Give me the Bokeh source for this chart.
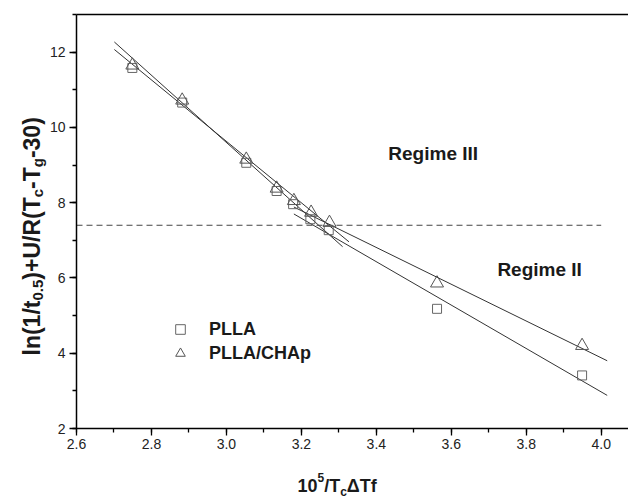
import math
from bokeh.plotting import figure
from bokeh.models import (SingleIntervalTicker, FixedTicker, LinearAxis, Label, Range1d,
                          Legend, LegendItem, PrintfTickFormatter)
from bokeh.embed import file_html
from bokeh.resources import INLINE

# ---------------- data ----------------
plla_x = [2.749, 2.882, 3.053, 3.134, 3.178, 3.224, 3.273, 3.562, 3.949]
plla_y = [11.58, 10.66, 9.06, 8.31, 7.96, 7.56, 7.27, 5.18, 3.41]
chap_x = [2.749, 2.882, 3.053, 3.134, 3.180, 3.226, 3.275, 3.562, 3.949]
chap_y = [11.65, 10.72, 9.15, 8.38, 8.05, 7.74, 7.47, 5.86, 4.20]

# linear fits (start / end of each fitted line)
fit_x0 = [2.701, 2.701, 3.18, 3.18]
fit_x1 = [3.310, 3.327, 4.016, 4.016]
fit_y0 = [12.27, 12.07, 7.885, 7.70]
fit_y1 = [6.83, 6.96, 3.80, 2.88]

# regime boundary
boundary_x = [2.6, 4.0]
boundary_y = [7.40, 7.40]

series_names = ["PLLA", "PLLA/CHAp"]
regime_labels = ["Regime III", "Regime II"]
regime_x = [3.432, 3.723]
regime_y = [9.32, 6.22]

x_title = [("10", 18, 0), ("5", 12, -8), ("/T", 18, 0), ("c", 12, 6), ("\u0394Tf", 18, 0)]
y_title = [("ln(1/t", 23, 0), ("0.5", 15, 6), (")+U/R(T", 23, 0), ("c", 15, 6),
           ("-T", 23, 0), ("g", 15, 6), ("-30)", 23, 0)]

# ---------------- layout ----------------
FONT = "Liberation Sans"
TXT = "#1a1a1a"
W, H = 628, 498
FL, FT, FB = 76, 14, 428           # axes box left / top / bottom in pixels
X0, X1 = 2.6, 4.0                  # x axis: pixel FL .. 600.7
Y0, Y1 = 2.0, 13.0                 # y axis: pixel FB .. FT
PX = (600.7 - FL) / (X1 - X0)
PY = (FB - FT) / (Y1 - Y0)

x_lo, x_hi = X0 - FL / PX, X0 + (W - FL) / PX
y_lo, y_hi = Y0 - (H - FB) / PY, Y0 + FB / PY

p = figure(width=W, height=H, output_backend="svg", toolbar_location=None, title=None,
           x_range=Range1d(x_lo, x_hi), y_range=Range1d(y_lo, y_hi),
           x_axis_location=None, y_axis_location=None,
           min_border=0, outline_line_color=None, background_fill_color="white",
           border_fill_color="white")
p.grid.visible = False


def style(ax):
    ax.axis_line_width = 1.5
    ax.axis_line_color = "black"
    ax.major_tick_in = 0
    ax.major_tick_out = 7
    ax.minor_tick_in = 0
    ax.minor_tick_out = 4
    ax.major_tick_line_color = "black"
    ax.minor_tick_line_color = "black"
    ax.major_tick_line_width = 1.3
    ax.minor_tick_line_width = 1.3
    ax.major_label_text_font = FONT
    ax.major_label_text_font_size = "14px"
    ax.major_label_text_color = "#222222"


xax = LinearAxis(ticker=SingleIntervalTicker(interval=0.2, num_minor_ticks=2),
                 formatter=PrintfTickFormatter(format="%.1f"),
                 fixed_location=Y0, bounds=(X0, x_hi), major_label_standoff=3)
style(xax)
p.add_layout(xax, "below")

yax = LinearAxis(ticker=SingleIntervalTicker(interval=2, num_minor_ticks=2),
                 fixed_location=X0, bounds=(Y0, Y1), major_label_standoff=4)
style(yax)
p.add_layout(yax, "left")

top = LinearAxis(ticker=FixedTicker(ticks=[]), fixed_location=Y1, bounds=(X0, x_hi),
                 axis_line_width=1.5, axis_line_color="black",
                 major_tick_out=0, minor_tick_out=0)
p.add_layout(top, "above")

# boundary
p.line(boundary_x, boundary_y, line_color="#444444", line_width=1, line_dash="6 4")

# fit lines
p.segment(x0=fit_x0, y0=fit_y0, x1=fit_x1, y1=fit_y1, line_color="#333333", line_width=1)

# data points
r_plla = p.scatter(plla_x, plla_y, marker="square", size=9, fill_color=None,
                   line_color="#666666", line_width=1)
r_chap = p.scatter(chap_x, chap_y, marker="triangle", size=13, fill_color=None,
                   line_color="#555555", line_width=1)

legend = Legend(items=[LegendItem(label=series_names[0], renderers=[r_plla]),
                       LegendItem(label=series_names[1], renderers=[r_chap])],
                location=(168, 133), border_line_color=None, background_fill_alpha=0,
                padding=0, margin=0, spacing=0, glyph_width=24, glyph_height=24,
                label_height=24, label_standoff=17, label_text_font=FONT,
                label_text_font_style="bold", label_text_font_size="18px",
                label_text_color=TXT)
p.add_layout(legend, "center")

for t, x, y in zip(regime_labels, regime_x, regime_y):
    p.add_layout(Label(x=x, y=y, text=t, text_font=FONT, text_font_style="bold",
                       text_font_size="19px", text_color=TXT, text_baseline="middle",
                       text_align="left"))

# composed axis titles (with sub/superscripts)
WB = {'0': 556, '1': 556, '3': 556, '5': 556, '.': 278, '/': 278, '(': 333, ')': 333,
      '+': 584, '-': 333, 'l': 278, 'n': 611, 't': 333, 'c': 556, 'g': 611, 'f': 333,
      'T': 611, 'U': 722, 'R': 722, '\u0394': 700}


def adv(s, size):
    return sum(WB.get(ch, 556) for ch in s) / 1000.0 * size


cur = 297.0
base = 485.0
for txt, size, dy in x_title:
    p.add_layout(Label(x=X0, y=Y0, x_offset=cur - FL, y_offset=FB - (base + dy),
                       text=txt, text_font=FONT, text_font_style="bold",
                       text_font_size=f"{size}px", text_color=TXT,
                       text_baseline="alphabetic", text_align="left"))
    cur += adv(txt, size)

cur = 355.0
base_x = 31.0
for txt, size, dx in y_title:
    p.add_layout(Label(x=X0, y=Y0, x_offset=(base_x + dx) - FL, y_offset=FB - cur,
                       text=txt, text_font=FONT, text_font_style="bold",
                       text_font_size=f"{size}px", text_color=TXT, angle=math.pi / 2,
                       text_baseline="alphabetic", text_align="left"))
    cur -= adv(txt, size)

open("out.html", "w").write(file_html(p, INLINE))
